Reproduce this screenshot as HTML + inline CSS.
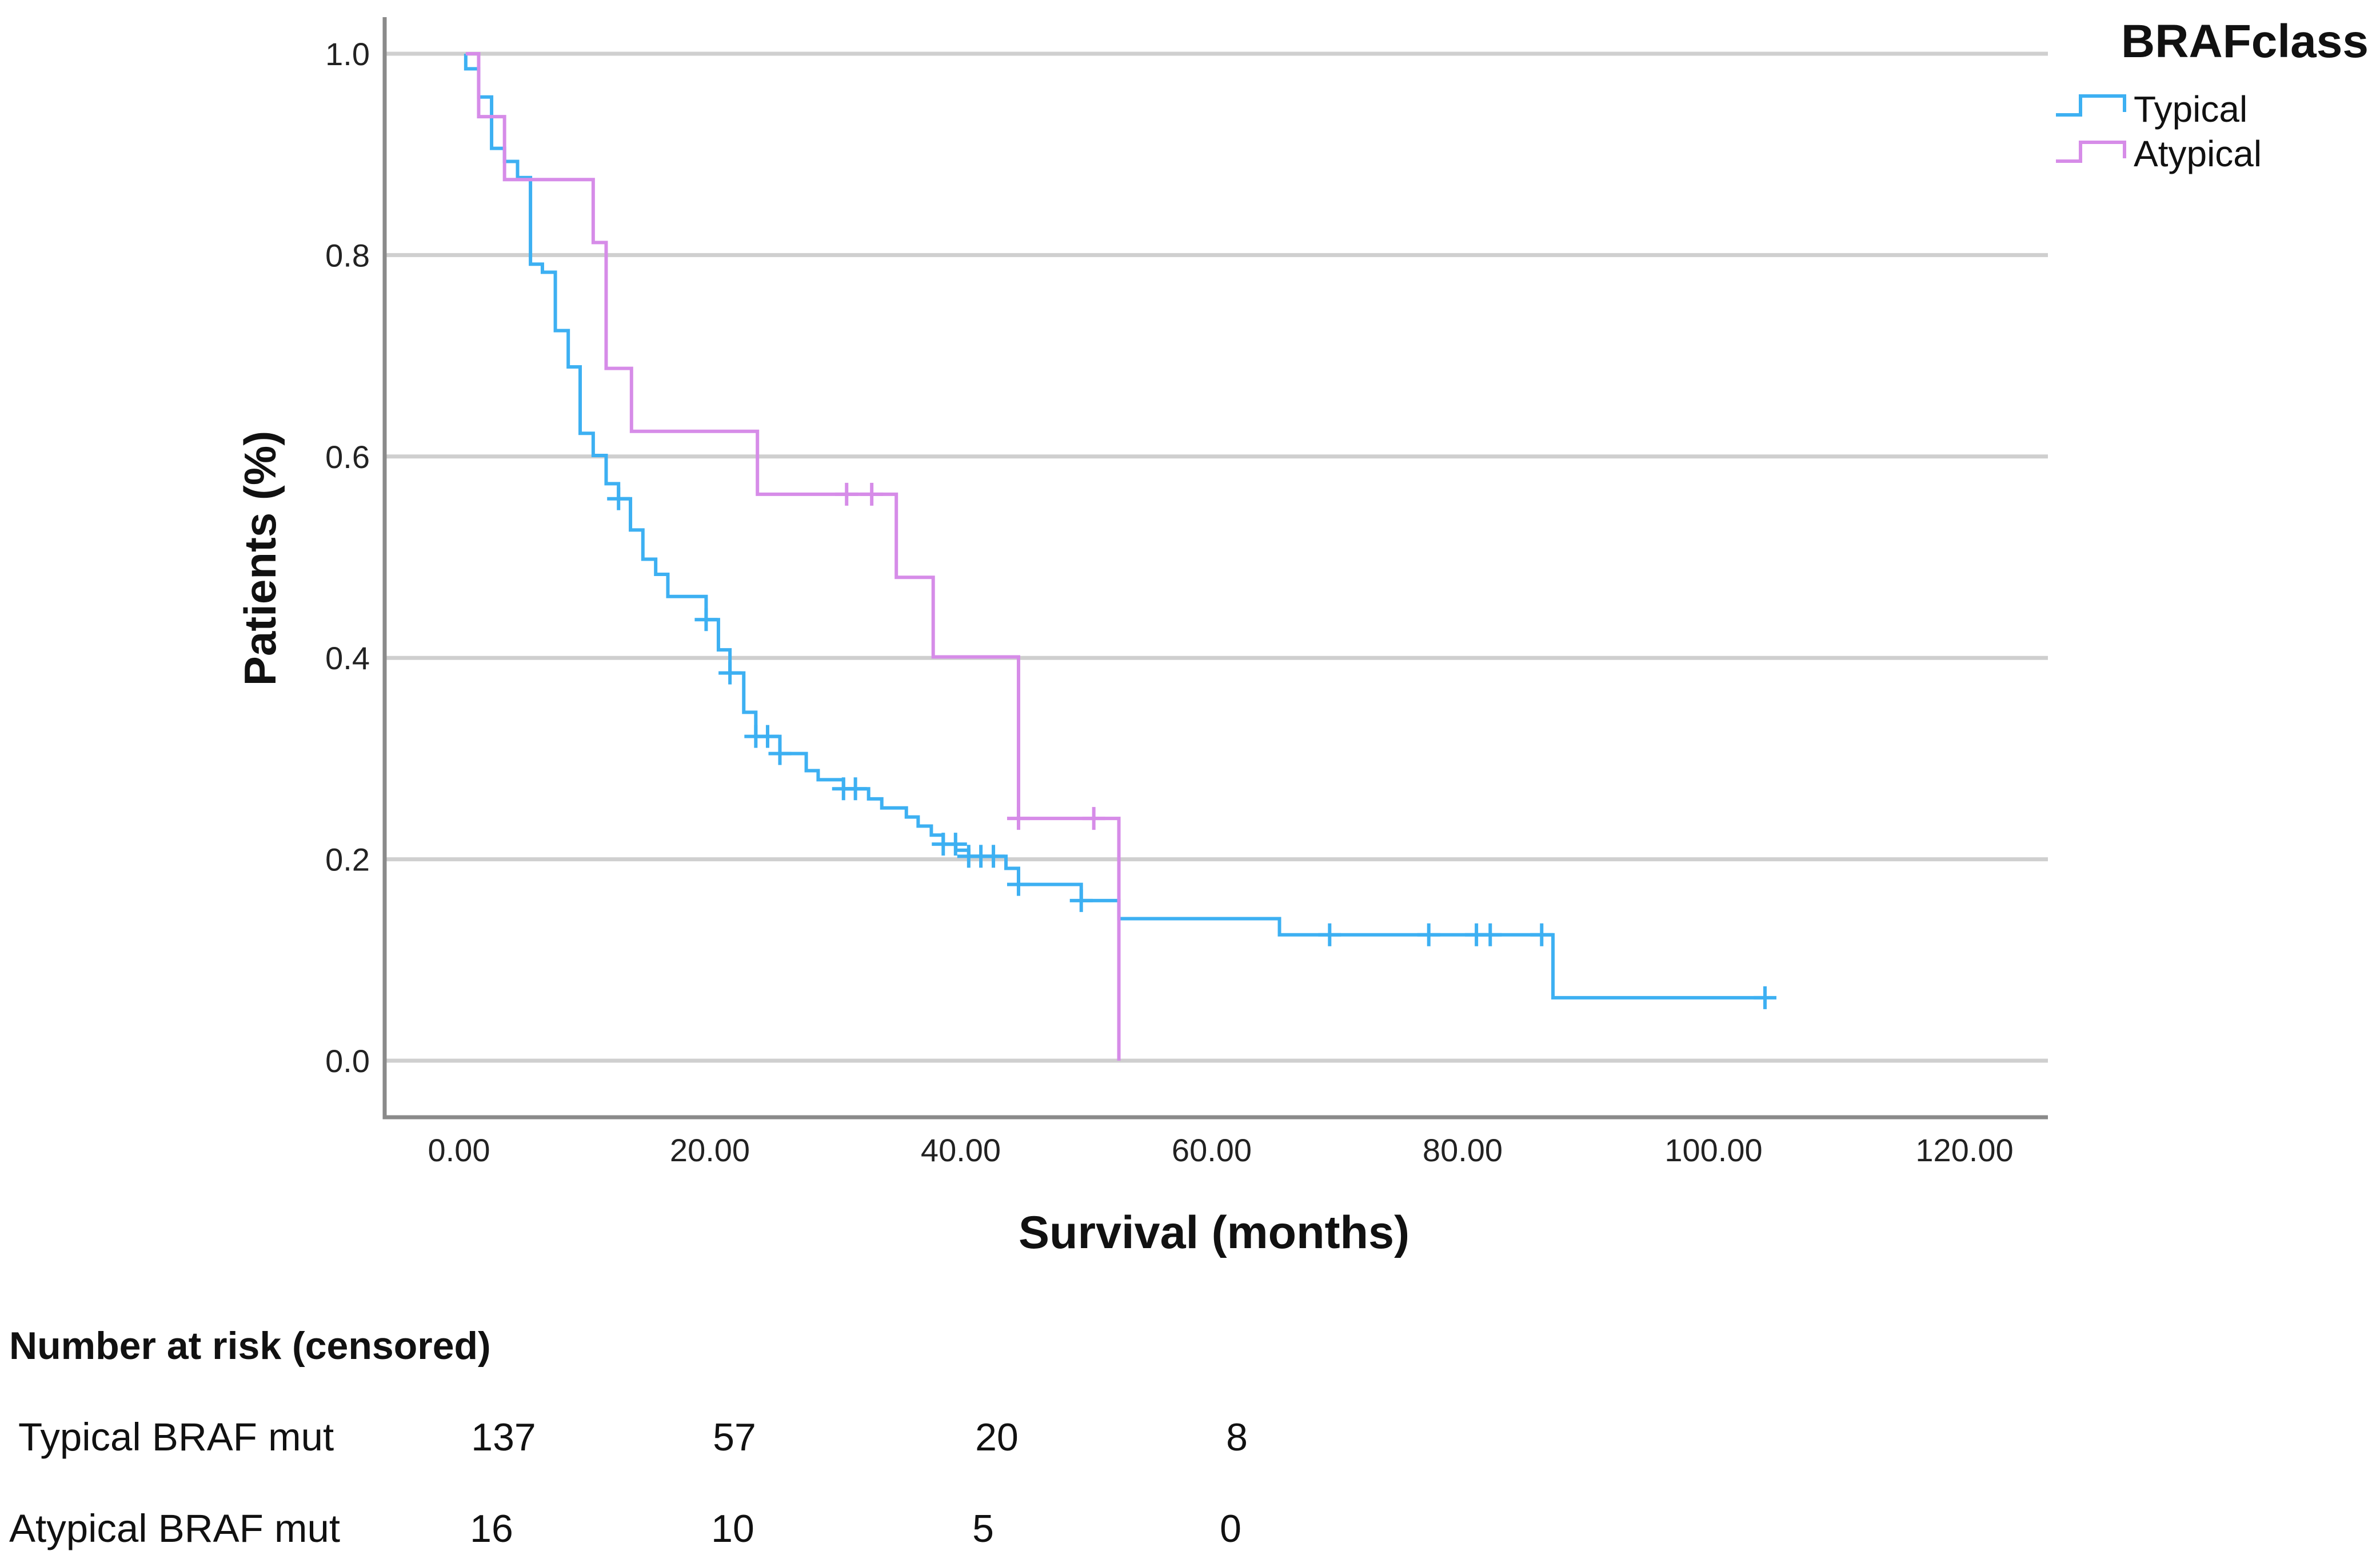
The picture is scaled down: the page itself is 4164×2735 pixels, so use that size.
<!DOCTYPE html>
<html><head><meta charset="utf-8"><style>
html,body{margin:0;padding:0;background:#fff;}
svg{display:block;font-family:"Liberation Sans",Arial,sans-serif;}
</style></head><body>
<svg id="chart" width="4164" height="2735" viewBox="0 0 4164 2735" xmlns="http://www.w3.org/2000/svg">
<g id="grid"></g>
<g id="axes"></g>
<g id="series"></g>
<text x="0" y="0" transform="translate(482,977) rotate(-90)" text-anchor="middle" font-size="78" font-weight="bold" fill="#111">Patients (%)</text>
<text x="2124" y="2184" text-anchor="middle" font-size="81" font-weight="bold" fill="#111">Survival (months)</text>
<g>
<text x="4144" y="100" text-anchor="end" font-size="82" font-weight="bold" fill="#111">BRAFclass</text>
<g>
<path d="M3597,201 H3640 V168 H3717 V196" fill="none" stroke="#3db0f2" stroke-width="6"/>
<text x="3733" y="213" font-size="64" fill="#111">Typical</text></g>
<g>
<path d="M3597,282 H3640 V249 H3717 V277" fill="none" stroke="#d68ce8" stroke-width="6"/>
<text x="3733" y="291" font-size="64" fill="#111">Atypical</text></g>
</g>
<g fill="#111">
<text x="16" y="2378" font-size="68" font-weight="bold">Number at risk (censored)</text>
<text x="32" y="2538" font-size="69">Typical BRAF mut</text>
<text x="16" y="2698" font-size="69">Atypical BRAF mut</text>
<g id="riskvals"></g>
</g>
</svg>
<script>
// Axis ticks
const yTicks = [0, 0.2, 0.4, 0.6, 0.8, 1.0];
const yTickLabels = ["0.0","0.2","0.4","0.6","0.8","1.0"];
const xTicks = [0, 20, 40, 60, 80, 100, 120];
const xTickLabels = ["0.00","20.00","40.00","60.00","80.00","100.00","120.00"];
// Typical series: step times and survival after step
const typicalTimes = [0.54,0.54,1.57,2.6,3.63,4.67,5.7,6.65,7.68,8.71,9.66,10.7,11.73,12.72,13.67,14.66,15.68,16.65,19.7,20.68,21.6,22.7,23.66,25.58,27.68,28.63,30.65,32.65,33.7,35.66,36.6,37.65,38.6,39.6,40.63,43.6,44.6,49.6,52.6,65.4,87.2];
const typicalSurv = [1,0.985,0.957,0.906,0.893,0.877,0.791,0.783,0.725,0.689,0.623,0.601,0.573,0.558,0.527,0.498,0.483,0.461,0.438,0.408,0.385,0.346,0.322,0.305,0.288,0.279,0.270,0.260,0.251,0.242,0.233,0.224,0.215,0.209,0.203,0.191,0.175,0.159,0.141,0.125,0.0625];
const typicalEnd = 104.1;
const typicalCensored = [12.72,19.7,21.6,23.66,24.6,25.58,30.65,31.6,38.6,39.58,40.63,41.6,42.6,44.6,49.6,69.4,77.3,81.1,82.2,86.3,104.1];
// Atypical series
const atypicalTimes = [0.54,1.57,3.63,10.7,11.73,13.75,23.79,34.86,37.8,44.6,52.6];
const atypicalSurv = [1,0.9375,0.875,0.8125,0.6875,0.625,0.5625,0.48,0.401,0.2406,0];
const atypicalEnd = 52.6;
const atypicalCensored = [30.9,32.9,44.6,50.6];
// Risk table
const riskColsTypical = [881,1285,1744,2164];
const riskColsAtypical = [860,1282,1720,2153];
const riskTypical = ["137","57","20","8"];
const riskAtypical = ["16","10","5","0"];

const NS="http://www.w3.org/2000/svg";
const X0=803, XPM=21.95, Y0=1856, YH=1762;
const sx=t=>X0+t*XPM, sy=v=>Y0-v*YH;
function mk(tag,attrs,parent){const e=document.createElementNS(NS,tag);for(const k in attrs)e.setAttribute(k,attrs[k]);parent.appendChild(e);return e;}
const grid=document.getElementById('grid'), axes=document.getElementById('axes'), series=document.getElementById('series');
yTicks.forEach((v,i)=>{
  const l=mk('line',{x1:676,x2:3583,y1:sy(v),y2:sy(v),stroke:'#cfcfcf','stroke-width':7},grid);
  
  
  const t=mk('text',{x:647,y:sy(v)+20,'text-anchor':'end','font-size':56,fill:'#222'},axes);
  t.textContent=yTickLabels[i];
  
  
});
const ya=mk('path',{d:'M673,30 V1955 H3583',fill:'none',stroke:'#8a8a8a','stroke-width':7},axes);


xTicks.forEach((v,i)=>{
  const t=mk('text',{x:sx(v),y:2032,'text-anchor':'middle','font-size':56,fill:'#222'},axes);
  t.textContent=xTickLabels[i];
  
  
});
function survAt(times,surv,t){let s=surv[0];for(let i=0;i<times.length;i++){if(times[i]<=t+1e-9)s=surv[i];}return s;}
function drawSeries(times,surv,end,cens,color,name){
  let d='M'+sx(times[0])+','+sy(surv[0]);
  for(let i=1;i<times.length;i++){d+=' H'+sx(times[i])+' V'+sy(surv[i]);}
  d+=' H'+sx(end);
  const p=mk('path',{d:d,fill:'none',stroke:color,'stroke-width':6},series);
  
  
  cens.forEach(t=>{
    const x=sx(t), y=sy(survAt(times,surv,t));
    const c=mk('path',{d:'M'+(x-20)+','+y+' H'+(x+20)+' M'+x+','+(y-20)+' V'+(y+20),stroke:color,'stroke-width':6,fill:'none'},series);
    
    
  });
}
drawSeries(typicalTimes,typicalSurv,typicalEnd,typicalCensored,'#3db0f2','typical');
drawSeries(atypicalTimes,atypicalSurv,atypicalEnd,atypicalCensored,'#d68ce8','atypical');
const rv=document.getElementById('riskvals');
riskColsTypical.forEach((x,i)=>{
  const a=mk('text',{x:x,y:2538,'text-anchor':'middle','font-size':68},rv);
  a.textContent=riskTypical[i];
  
  
});
riskColsAtypical.forEach((x,i)=>{
  const b=mk('text',{x:x,y:2698,'text-anchor':'middle','font-size':68},rv);
  b.textContent=riskAtypical[i];
  
  
});
</script>
</body></html>
